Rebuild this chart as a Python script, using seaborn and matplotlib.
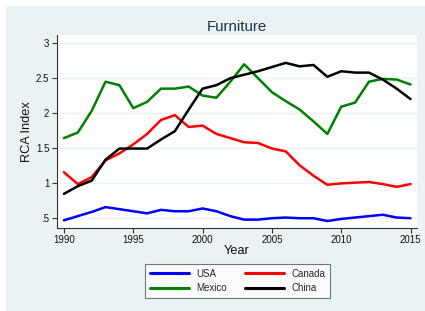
import matplotlib
matplotlib.use("Agg")
import matplotlib.pyplot as plt
import seaborn as sns
import pandas as pd
import numpy as np
from matplotlib.patches import Rectangle
from matplotlib.lines import Line2D

years = list(range(1990, 2016))
usa = [0.46, 0.52, 0.58, 0.65, 0.62, 0.59, 0.56, 0.61, 0.59, 0.59, 0.63, 0.59, 0.52, 0.47,
       0.47, 0.49, 0.50, 0.49, 0.49, 0.45, 0.48, 0.50, 0.52, 0.54, 0.50, 0.49]
canada = [1.15, 0.98, 1.08, 1.32, 1.42, 1.55, 1.70, 1.90, 1.97, 1.80, 1.82, 1.70, 1.64, 1.58,
          1.57, 1.49, 1.45, 1.25, 1.10, 0.97, 0.99, 1.00, 1.01, 0.98, 0.94, 0.98]
mexico = [1.64, 1.72, 2.03, 2.45, 2.40, 2.07, 2.16, 2.35, 2.35, 2.38, 2.25, 2.22, 2.45, 2.70,
          2.50, 2.30, 2.17, 2.05, 1.88, 1.70, 2.09, 2.15, 2.45, 2.49, 2.48, 2.41]
china = [0.84, 0.95, 1.03, 1.33, 1.49, 1.49, 1.49, 1.62, 1.74, 2.05, 2.35, 2.40, 2.50, 2.55,
         2.60, 2.66, 2.72, 2.67, 2.69, 2.52, 2.60, 2.58, 2.58, 2.48, 2.35, 2.20]
countries = ["USA", "Canada", "Mexico", "China"]
palette = {"USA": "#0000FF", "Canada": "#FF0000", "Mexico": "#008000", "China": "#000000"}
yticks = [0.5, 1, 1.5, 2, 2.5, 3]
yticklabels = [".5", "1", "1.5", "2", "2.5", "3"]
xticks = [1990, 1995, 2000, 2005, 2010, 2015]

df = pd.DataFrame({
    "Year": years * 4,
    "RCA": usa + canada + mexico + china,
    "Country": sum([[c] * len(years) for c in countries], []),
})

sns.set_theme(style="white")
plt.rcParams["font.family"] = ["Liberation Sans", "DejaVu Sans"]

W, H = 425, 311
fig = plt.figure(figsize=(W / 100, H / 100), dpi=100, facecolor="white")
bg = "#EAF2F3"
fig.patches.append(Rectangle((6 / W, 0), 1, 1 - 6 / H, transform=fig.transFigure,
                             facecolor=bg, edgecolor="none", zorder=-10))

left, right, top, bottom = 57, 416.5, 35, 227.7
ax = fig.add_axes([left / W, 1 - bottom / H, (right - left) / W, (bottom - top) / H])
ax.set_facecolor("white")

sns.lineplot(data=df, x="Year", y="RCA", hue="Country", hue_order=countries,
             palette=palette, linewidth=1.8, ax=ax, legend=False)

ax.set_xlim(1989.5, 2015.43)
ax.set_ylim(0.354, 3.12)
ax.set_yticks(yticks)
ax.set_yticklabels(yticklabels)
ax.set_xticks(xticks)
ax.grid(axis="y", color=bg, linewidth=1.0)
ax.grid(axis="x", visible=False)
ax.set_axisbelow(True)
for s in ["top", "right"]:
    ax.spines[s].set_visible(False)
for s in ["left", "bottom"]:
    ax.spines[s].set_color("#333333")
    ax.spines[s].set_linewidth(0.8)
ax.tick_params(axis="both", direction="out", length=3.5, width=0.8, color="#333333",
               labelsize=7, labelcolor="#111111", pad=2, left=True, bottom=True)
ax.set_xlabel("Year", fontsize=9.2, color="#111111", labelpad=0)
ax.set_ylabel("RCA Index", fontsize=9.2, color="#111111", labelpad=2)
ax.set_title("Furniture", fontsize=10.8, color="#1e2d50", pad=3)

order = ["USA", "Mexico", "Canada", "China"]
handles = [Line2D([], [], color=palette[c], linewidth=2.2) for c in order]
leg = fig.legend(handles, order, ncol=2, loc="center",
                 bbox_to_anchor=((143 + 332) / 2 / W, 1 - (264 + 298) / 2 / H),
                 fontsize=7, frameon=True, fancybox=False, handlelength=4.0,
                 columnspacing=1.9, handletextpad=0.75, labelspacing=0.5,
                 borderpad=0.45, borderaxespad=0)
leg.get_frame().set_edgecolor("#555555")
leg.get_frame().set_linewidth(0.8)
leg.get_frame().set_facecolor("white")

fig.savefig("out.png", dpi=100, facecolor="white")
